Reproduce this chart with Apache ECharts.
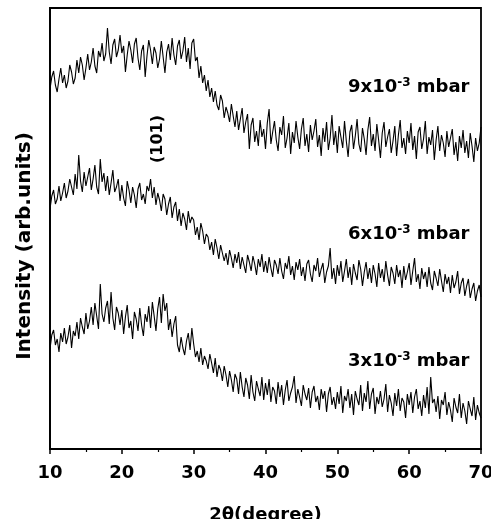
<!DOCTYPE html>
<html>
<head>
<meta charset="utf-8">
<script src="https://cdn.jsdelivr.net/npm/echarts@6/dist/echarts.min.js"></script>
<style>
  html, body { margin: 0; padding: 0; background: #fff; }
  #chart { width: 491px; height: 519px; }
</style>
</head>
<body>
<div id="chart"></div>
<script>
(function() {
  // scan grid: 10 to 70 deg in 0.25 deg steps
  var scanStart = 10;
  var scanStep = 0.25;
  var xTicks = [10, 20, 30, 40, 50, 60, 70];

  // 9x10^-3 mbar (arbitrary intensity), 2 deg per row
  var i9 = [
    360, 372, 378, 364, 357, 370, 381, 366,
    374, 361, 368, 384, 377, 365, 371, 389,
    376, 392, 384, 369, 381, 395, 379, 387,
    401, 383, 376, 398, 392, 406, 388, 395,
    421, 397, 385, 404, 410, 392, 399, 414,
    396, 403, 377, 394, 408, 399, 386, 405,
    411, 391, 379, 398, 404, 372, 393, 409,
    399, 385, 402, 396, 381, 390, 408, 392,
    376, 397, 405, 389, 411, 394, 384, 403,
    409, 390, 398, 412, 387, 401, 380, 406,
    410, 388, 392, 371, 383, 366, 374, 358,
    369, 352, 361, 347, 358, 344, 339, 354,
    348, 331, 342, 336, 327, 345, 333, 322,
    338, 319, 330, 341, 316, 327, 335, 300,
    324, 331, 307, 318, 303, 329, 312, 320,
    300, 326, 340, 305, 317, 328, 309, 298,
    322, 314, 333, 301, 311, 326, 295, 317,
    306, 328, 312, 300, 320, 331, 303, 315,
    297, 324, 309, 318, 330, 302, 314, 293,
    321, 307, 327, 299, 311, 334, 304, 318,
    296, 323, 312, 301, 328, 308, 292, 317,
    324, 300, 313, 330, 305, 297, 321, 310,
    294, 319, 332, 303, 315, 298, 325, 309,
    291, 316, 327, 302, 312, 320, 296, 308,
    323, 293, 314, 329, 301, 311, 295, 318,
    306, 326, 299, 313, 290, 317, 322, 300,
    310, 328, 295, 312, 304, 319, 289, 309,
    323, 298, 314, 306, 292, 318, 302, 311,
    320, 294, 307, 288, 313, 301, 319, 296,
    308, 291, 316, 303, 287, 311, 298, 306,
    322
  ];

  // 6x10^-3 mbar
  var i6 = [
    240, 253, 259, 245, 250, 263, 248, 256,
    266, 251, 258, 270, 262, 254, 275, 260,
    294, 268, 257, 277, 263, 272, 281, 259,
    270, 284, 262, 255, 290, 267, 276, 258,
    273, 254, 266, 279, 257, 262, 270, 248,
    264, 251, 243, 268, 259, 246, 262, 254,
    241, 260, 266, 249, 255, 245, 263, 258,
    270, 251, 262, 244, 256, 249, 238, 255,
    250, 234, 245, 252, 231, 242, 247, 228,
    240, 223, 236, 230, 219, 238, 226, 232,
    229, 214, 222, 209, 226, 218, 205, 215,
    212, 199, 207, 194, 210, 201, 190, 204,
    202, 188, 196, 184, 199, 191, 181, 195,
    186, 197, 180, 192, 184, 176, 194, 187,
    178, 193, 185, 174, 190, 182, 195, 177,
    188, 176, 192, 181, 172, 189, 184, 175,
    191, 178, 170, 186, 180, 193, 174, 183,
    169, 187, 179, 190, 173, 182, 168, 185,
    189, 175, 167, 184, 178, 191, 172, 180,
    186, 166, 177, 183, 201, 170, 181, 165,
    184, 173, 188, 167, 178, 190, 171, 182,
    164, 185, 176, 169, 189, 180, 163, 177,
    187, 170, 181, 166, 184, 175, 162, 186,
    171, 180, 167, 188, 174, 163, 182, 176,
    165, 184, 172, 179, 161, 183, 169, 177,
    186, 164, 178, 191, 167, 175, 160, 181,
    170, 177, 162, 182, 166, 159, 178, 171,
    163, 180, 168, 157, 175, 165, 172, 156,
    174, 161, 167, 178, 155, 166, 171, 153,
    163, 170, 151, 160, 166, 148, 158, 164,
    152
  ];

  // 3x10^-3 mbar
  var i3 = [
    100, 114, 119, 104, 110, 97, 116, 107,
    121, 105, 112, 124, 101, 118, 113, 127,
    110, 131, 122, 115, 136, 120, 128, 142,
    124, 146, 133, 120, 165, 135, 127, 141,
    148, 125, 157, 131, 119, 142, 136, 124,
    139, 115, 132, 144, 121, 128, 110, 137,
    130, 118, 141, 124, 113, 135, 127, 143,
    121, 147, 133, 118, 140, 152, 126, 155,
    138, 146, 119, 130, 112, 125, 133, 104,
    97, 112, 101, 94, 108, 116, 99, 121,
    105, 92, 98, 87, 101, 84, 93, 88,
    80, 95, 86, 76, 91, 72, 84, 79,
    68, 83, 74, 62, 78, 69, 57, 75,
    70, 55, 77, 62, 52, 71, 64, 50,
    74, 57, 48, 68, 60, 53, 72, 49,
    66, 54, 70, 47, 62, 58, 45, 67,
    52, 64, 44, 59, 69, 48, 56, 62,
    73, 46, 60, 52, 43, 64, 55, 49,
    61, 41, 57, 63, 47, 53, 39, 60,
    50, 58, 37, 55, 62, 44, 52, 40,
    57, 45, 63, 36, 53, 48, 60, 41,
    55, 34, 58, 50, 44, 64, 38, 56,
    47, 68, 40, 55, 61, 35, 52, 45,
    58, 42, 50, 65, 37, 54, 46, 33,
    56, 43, 60, 38, 51, 47, 31, 55,
    44, 57, 36, 52, 60, 40, 48, 33,
    54, 41, 62, 35, 72, 46, 50, 37,
    53, 30, 49, 44, 57, 34, 47, 39,
    27, 51, 42, 36, 55, 31, 46, 38,
    25, 48, 40, 33, 52, 29, 44, 36,
    31
  ];

  function pairs(arr) {
    return arr.map(function(v, i) { return [scanStart + i * scanStep, v]; });
  }

  var font = '"DejaVu Sans", sans-serif';
  var supRich = {
    b: { fontFamily: font, fontSize: 18, fontWeight: 'bold', color: '#000' },
    s: { fontFamily: font, fontSize: 12, fontWeight: 'bold', color: '#000', verticalAlign: 'top', padding: [0, 0, 9, 0] }
  };

  function pressureLabel(mant, x, y) {
    return {
      type: 'text',
      left: x,
      top: y,
      style: {
        text: '{b|' + mant + 'x10}{s|-3}{b| mbar}',
        rich: supRich
      }
    };
  }

  var chart = echarts.init(document.getElementById('chart'), null, { renderer: 'canvas' });
  chart.setOption({
    animation: false,
    backgroundColor: '#fff',
    grid: {
      left: 50,
      right: 10,
      top: 8,
      bottom: 70,
      containLabel: false,
      outerBoundsMode: 'none',
      show: true,
      borderColor: '#000',
      borderWidth: 1.8
    },
    xAxis: {
      type: 'value',
      min: 10,
      max: 70,
      interval: 10,
      name: '2θ(degree)',
      nameLocation: 'middle',
      nameGap: 57,
      nameTextStyle: { fontFamily: font, fontSize: 18, fontWeight: 'bold', color: '#000' },
      axisLine: { onZero: false, lineStyle: { color: '#000', width: 1.8 } },
      axisTick: { show: true, inside: false, length: 5, lineStyle: { color: '#000', width: 1.5 } },
      minorTick: { show: true, splitNumber: 2, length: 3, lineStyle: { color: '#000', width: 1.2 } },
      axisLabel: {
        color: '#000', fontFamily: font, fontSize: 18, fontWeight: 'bold', margin: 15,
        showMinLabel: true, showMaxLabel: true, hideOverlap: false,
        formatter: function(v) { return xTicks.indexOf(v) >= 0 ? String(v) : ''; }
      },
      splitLine: { show: false }
    },
    yAxis: {
      type: 'value',
      min: 0,
      max: 441,
      axisLine: { show: true, onZero: false, lineStyle: { color: '#000', width: 1.8 } },
      axisTick: { show: false },
      axisLabel: { show: false },
      splitLine: { show: false }
    },
    graphic: [
      pressureLabel('9', 348, 77),
      pressureLabel('6', 348, 224),
      pressureLabel('3', 348, 351),
      {
        type: 'text',
        x: 158,
        y: 139,
        rotation: Math.PI / 2,
        style: {
          text: '(101)',
          fontFamily: font, fontSize: 16, fontWeight: 'bold', fill: '#000',
          align: 'center', verticalAlign: 'middle'
        }
      },
      {
        type: 'text',
        x: 25,
        y: 246,
        rotation: Math.PI / 2,
        style: {
          text: 'Intensity (arb.units)',
          fontFamily: font, fontSize: 20, fontWeight: 'bold', fill: '#000',
          align: 'center', verticalAlign: 'middle'
        }
      }
    ],
    series: [
      { name: '9x10-3 mbar', type: 'line', data: pairs(i9), showSymbol: false, lineStyle: { color: '#000', width: 1.1 } },
      { name: '6x10-3 mbar', type: 'line', data: pairs(i6), showSymbol: false, lineStyle: { color: '#000', width: 1.1 } },
      { name: '3x10-3 mbar', type: 'line', data: pairs(i3), showSymbol: false, lineStyle: { color: '#000', width: 1.1 } }
    ]
  });
})();
</script>
</body>
</html>
